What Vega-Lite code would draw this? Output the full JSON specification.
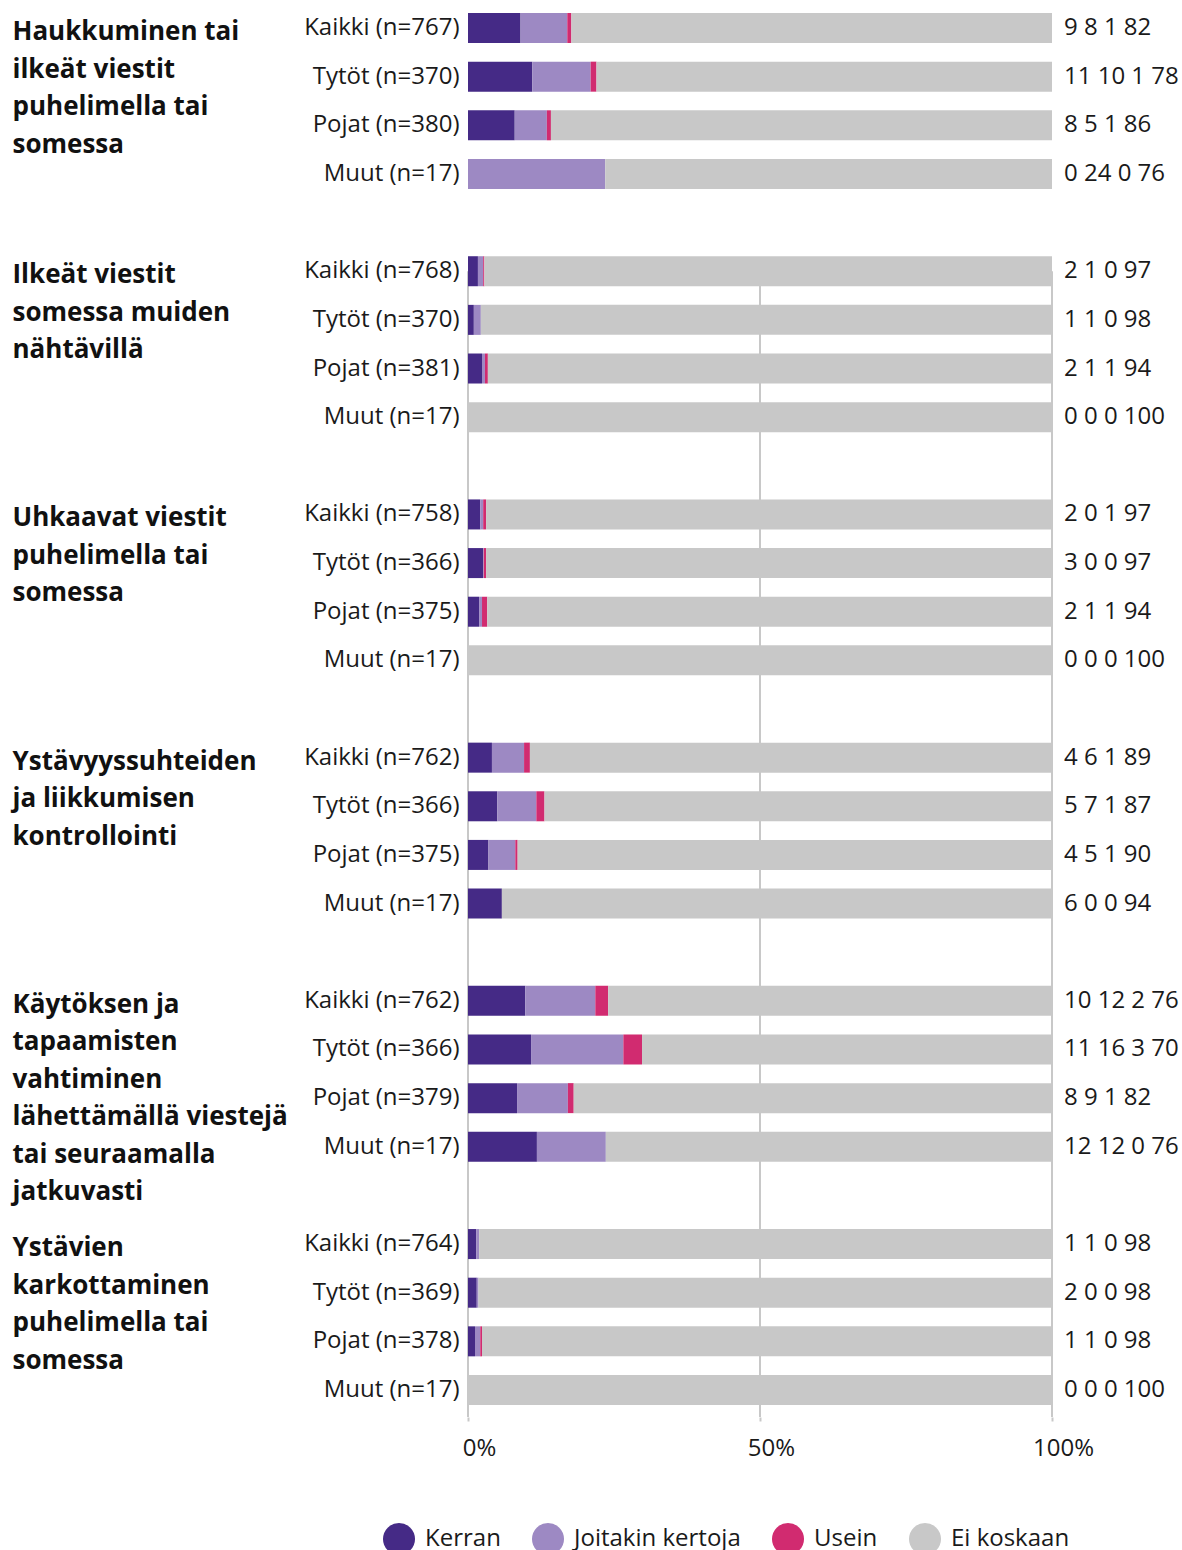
{
  "$schema": "https://vega.github.io/schema/vega-lite/v6.json",
  "width": 584,
  "height": 1416,
  "padding": {"left": 12, "top": 1, "right": 0, "bottom": 0},
  "background": "white",
  "config": {
    "font": "Open Sans",
    "view": {"stroke": null},
    "axis": {"labelFont": "Open Sans", "labelColor": "#1a1a1a"},
    "axisX": {
      "title": null,
      "grid": false,
      "domain": false,
      "tickSize": 4,
      "tickColor": "#c8c8c8",
      "tickWidth": 2,
      "labelFlush": false,
      "labelOffset": 11,
      "labelPadding": 15,
      "labelFontSize": 24
    },
    "legend": {"labelFont": "Open Sans"}
  },
  "datasets": {
    "order": [
      {"cat": "Kerran", "ord": 1},
      {"cat": "Joitakin kertoja", "ord": 2},
      {"cat": "Usein", "ord": 3},
      {"cat": "Ei koskaan", "ord": 4}
    ]
  },
  "data": {
    "values": [
      {"key": "Haukkuminen tai|ilkeät viestit|puhelimella tai|somessa#Kaikki (n=767)", "Kerran": 9, "Joitakin kertoja": 8, "Usein": 0.7, "Ei koskaan": 82.3, "txt": "9 8 1 82"},
      {"key": "1#Tytöt (n=370)", "Kerran": 11, "Joitakin kertoja": 10, "Usein": 1, "Ei koskaan": 78, "txt": "11 10 1 78"},
      {"key": "1#Pojat (n=380)", "Kerran": 8, "Joitakin kertoja": 5.5, "Usein": 0.7, "Ei koskaan": 85.8, "txt": "8 5 1 86"},
      {"key": "1#Muut (n=17)", "Kerran": 0, "Joitakin kertoja": 23.5, "Usein": 0, "Ei koskaan": 76.5, "txt": "0 24 0 76"},
      {"key": "Ilkeät viestit|somessa muiden|nähtävillä#Kaikki (n=768)", "Kerran": 1.7, "Joitakin kertoja": 0.9, "Usein": 0.2, "Ei koskaan": 97.2, "txt": "2 1 0 97"},
      {"key": "2#Tytöt (n=370)", "Kerran": 1, "Joitakin kertoja": 1.2, "Usein": 0, "Ei koskaan": 97.8, "txt": "1 1 0 98"},
      {"key": "2#Pojat (n=381)", "Kerran": 2.4, "Joitakin kertoja": 0.5, "Usein": 0.5, "Ei koskaan": 96.6, "txt": "2 1 1 94"},
      {"key": "2#Muut (n=17)", "Kerran": 0, "Joitakin kertoja": 0, "Usein": 0, "Ei koskaan": 100, "txt": "0 0 0 100"},
      {"key": "Uhkaavat viestit|puhelimella tai|somessa#Kaikki (n=758)", "Kerran": 2.1, "Joitakin kertoja": 0.5, "Usein": 0.5, "Ei koskaan": 96.9, "txt": "2 0 1 97"},
      {"key": "3#Tytöt (n=366)", "Kerran": 2.6, "Joitakin kertoja": 0.1, "Usein": 0.4, "Ei koskaan": 96.9, "txt": "3 0 0 97"},
      {"key": "3#Pojat (n=375)", "Kerran": 1.9, "Joitakin kertoja": 0.5, "Usein": 0.9, "Ei koskaan": 96.7, "txt": "2 1 1 94"},
      {"key": "3#Muut (n=17)", "Kerran": 0, "Joitakin kertoja": 0, "Usein": 0, "Ei koskaan": 100, "txt": "0 0 0 100"},
      {"key": "Ystävyyssuhteiden|ja liikkumisen|kontrollointi#Kaikki (n=762)", "Kerran": 4.1, "Joitakin kertoja": 5.5, "Usein": 1, "Ei koskaan": 89.4, "txt": "4 6 1 89"},
      {"key": "4#Tytöt (n=366)", "Kerran": 5, "Joitakin kertoja": 6.7, "Usein": 1.4, "Ei koskaan": 86.9, "txt": "5 7 1 87"},
      {"key": "4#Pojat (n=375)", "Kerran": 3.5, "Joitakin kertoja": 4.6, "Usein": 0.4, "Ei koskaan": 91.5, "txt": "4 5 1 90"},
      {"key": "4#Muut (n=17)", "Kerran": 5.8, "Joitakin kertoja": 0, "Usein": 0, "Ei koskaan": 94.2, "txt": "6 0 0 94"},
      {"key": "Käytöksen ja|tapaamisten|vahtiminen|lähettämällä viestejä|tai seuraamalla|jatkuvasti#Kaikki (n=762)", "Kerran": 9.8, "Joitakin kertoja": 12, "Usein": 2.2, "Ei koskaan": 76, "txt": "10 12 2 76"},
      {"key": "5#Tytöt (n=366)", "Kerran": 10.8, "Joitakin kertoja": 15.8, "Usein": 3.2, "Ei koskaan": 70.2, "txt": "11 16 3 70"},
      {"key": "5#Pojat (n=379)", "Kerran": 8.4, "Joitakin kertoja": 8.7, "Usein": 1, "Ei koskaan": 81.9, "txt": "8 9 1 82"},
      {"key": "5#Muut (n=17)", "Kerran": 11.8, "Joitakin kertoja": 11.8, "Usein": 0, "Ei koskaan": 76.4, "txt": "12 12 0 76"},
      {"key": "Ystävien|karkottaminen|puhelimella tai|somessa#Kaikki (n=764)", "Kerran": 1.4, "Joitakin kertoja": 0.5, "Usein": 0, "Ei koskaan": 98.1, "txt": "1 1 0 98"},
      {"key": "6#Tytöt (n=369)", "Kerran": 1.5, "Joitakin kertoja": 0.3, "Usein": 0, "Ei koskaan": 98.2, "txt": "2 0 0 98"},
      {"key": "6#Pojat (n=378)", "Kerran": 1.2, "Joitakin kertoja": 0.9, "Usein": 0.3, "Ei koskaan": 97.6, "txt": "1 1 0 98"},
      {"key": "6#Muut (n=17)", "Kerran": 0, "Joitakin kertoja": 0, "Usein": 0, "Ei koskaan": 100, "txt": "0 0 0 100"}
    ]
  },
  "resolve": {"axis": {"y": "independent"}},
  "layer": [
    {
      "data": {"values": [{"p": 0}, {"p": 0.5}, {"p": 1}]},
      "mark": {"type": "rule", "color": "#c8c8c8", "strokeWidth": 2},
      "encoding": {
        "x": {"field": "p", "type": "quantitative", "axis": {"title": null, "values": [0, 0.5, 1], "format": ".0%"}},
        "y": {"datum": "Ilkeät viestit|somessa muiden|nähtävillä#Kaikki (n=768)", "type": "nominal", "axis": null},
        "y2": {"value": "height"}
      }
    },
    {
      "transform": [
        {"fold": ["Kerran", "Joitakin kertoja", "Usein", "Ei koskaan"], "as": ["cat", "val"]},
        {"lookup": "cat", "from": {"data": {"name": "order"}, "key": "cat", "fields": ["ord"]}}
      ],
      "mark": {"type": "bar"},
      "encoding": {
        "y": {
          "field": "key",
          "type": "nominal",
          "scale": {
            "domain": [
              "Haukkuminen tai|ilkeät viestit|puhelimella tai|somessa#Kaikki (n=767)", "1#Tytöt (n=370)", "1#Pojat (n=380)", "1#Muut (n=17)", "s1#",
              "Ilkeät viestit|somessa muiden|nähtävillä#Kaikki (n=768)", "2#Tytöt (n=370)", "2#Pojat (n=381)", "2#Muut (n=17)", "s2#",
              "Uhkaavat viestit|puhelimella tai|somessa#Kaikki (n=758)", "3#Tytöt (n=366)", "3#Pojat (n=375)", "3#Muut (n=17)", "s3#",
              "Ystävyyssuhteiden|ja liikkumisen|kontrollointi#Kaikki (n=762)", "4#Tytöt (n=366)", "4#Pojat (n=375)", "4#Muut (n=17)", "s4#",
              "Käytöksen ja|tapaamisten|vahtiminen|lähettämällä viestejä|tai seuraamalla|jatkuvasti#Kaikki (n=762)", "5#Tytöt (n=366)", "5#Pojat (n=379)", "5#Muut (n=17)", "s5#",
              "Ystävien|karkottaminen|puhelimella tai|somessa#Kaikki (n=764)", "6#Tytöt (n=369)", "6#Pojat (n=378)", "6#Muut (n=17)"
            ],
            "paddingInner": 0.383,
            "paddingOuter": 0.247
          },
          "axis": {
            "title": null,
            "orient": "left",
            "labelExpr": "split(datum.value, '#')[1]",
            "ticks": false,
            "domain": false,
            "labelPadding": 9,
            "labelFontSize": 24,
            "labelLimit": 400
          }
        },
        "x": {
          "field": "val",
          "type": "quantitative",
          "stack": "normalize",
          "scale": {"domain": [0, 1], "nice": false},
          "axis": {"title": null, "values": [0, 0.5, 1], "format": ".0%"}
        },
        "order": {"field": "ord", "type": "quantitative"},
        "color": {
          "field": "cat",
          "type": "nominal",
          "sort": ["Kerran", "Joitakin kertoja", "Usein", "Ei koskaan"],
          "scale": {
            "domain": ["Kerran", "Joitakin kertoja", "Usein", "Ei koskaan"],
            "range": ["#452a86", "#9d89c3", "#d12b70", "#c8c8c8"]
          },
          "legend": {
            "title": null,
            "orient": "none",
            "legendX": -85,
            "legendY": 1522,
            "direction": "horizontal",
            "columns": 4,
            "columnPadding": 31,
            "padding": 0,
            "symbolType": "circle",
            "symbolSize": 1024,
            "symbolStrokeWidth": 0,
            "symbolOpacity": 1,
            "labelFontSize": 24,
            "labelColor": "#1a1a1a",
            "labelOffset": 10,
            "labelLimit": 400
          }
        }
      }
    },
    {
      "mark": {"type": "text", "align": "left", "baseline": "middle", "dx": 12, "fontSize": 24, "color": "#1a1a1a"},
      "encoding": {
        "x": {"datum": 1, "type": "quantitative", "axis": {"title": null, "values": [0, 0.5, 1], "format": ".0%"}},
        "y": {
          "field": "key",
          "type": "nominal",
          "axis": {
            "title": null,
            "orient": "left",
            "offset": 456,
            "labelExpr": "indexof(datum.value, '|') >= 0 ? split(split(datum.value, '#')[0], '|') : ''",
            "ticks": false,
            "tickSize": 0,
            "domain": false,
            "labelPadding": 0,
            "labelAlign": "left",
            "labelBaseline": "top",
            "labelOffset": -9,
            "labelFontSize": 26,
            "labelFontWeight": "bold",
            "labelLineHeight": 37.5,
            "labelLimit": 400,
            "labelColor": "#111111"
          }
        },
        "text": {"field": "txt"}
      }
    }
  ]
}
